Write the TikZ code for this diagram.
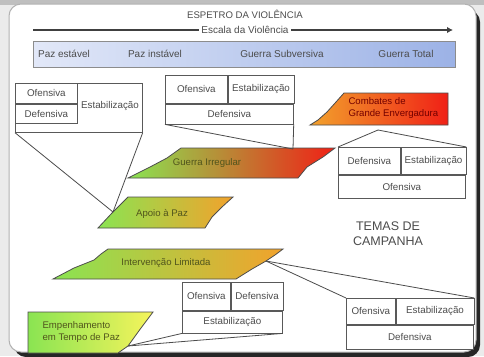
\documentclass[tikz,border=0pt]{standalone}
\usepackage{fontspec}
\setmainfont{Liberation Sans}
\usetikzlibrary{positioning,arrows.meta}
\definecolor{tgreen}{RGB}{138,228,82}
\definecolor{torange}{RGB}{242,162,44}
\definecolor{tred}{RGB}{240,32,22}
\definecolor{tyellow}{RGB}{246,244,92}
\definecolor{ttext}{RGB}{80,84,28}
\definecolor{bandl}{RGB}{226,232,248}
\definecolor{bandr}{RGB}{156,178,230}

\begin{document}
\begin{tikzpicture}[x=1pt,y=-1pt,
cell/.style={draw=black!65,fill=white,line width=0.7pt,inner sep=0pt,
anchor=north west,font=\fontsize{9.8}{11}\selectfont,text=black!70},
tema/.style={draw=black!70,line width=0.8pt},
tematext/.style={font=\fontsize{9.6}{11.5}\selectfont,text=ttext},
callout/.style={draw=black!70,line width=0.8pt},
band/.style={font=\fontsize{10}{11}\selectfont,text=black!70}]
\useasboundingbox (0,0) rectangle (484,356);
% frame
\fill[black!8] (0,0) rectangle (484,356);
\fill[black!25] (0,0) rectangle (484,5);
\fill[black!85,rounded corners=12] (14,10) rectangle (480,357);
\filldraw[fill=white,draw=black!30,line width=1pt,rounded corners=12] (9,4) rectangle (476,352);

% title and scale
\node[font=\fontsize{9.6}{11}\selectfont,text=black!70] (title) at (245,14) {ESPETRO DA VIOLÊNCIA};
\coordinate (escL) at (33,30);
\coordinate (escR) at (453,30);
\draw[black!75,line width=2pt,-{Latex[length=6pt,width=6.5pt]}] (escL) -- (escR);
\node[fill=white,inner sep=2pt,font=\fontsize{10}{11}\selectfont,text=black!70] (escala) at (245,30) {Escala da Violência};
\shadedraw[draw=black!45,left color=bandl,right color=bandr] (33,41) rectangle (455,67);
\node[band] (pazE) at (64,54) {Paz estável};
\node[band] (pazI) at (155,54) {Paz instável};
\node[band] (gSub) at (282,54) {Guerra Subversiva};
\node[band] (gTot) at (406,54) {Guerra Total};

% temas
\shadedraw[tema,left color=torange,right color=tred]
  (344,93) -- (448,93) -- (448,125) -- (310,125) -- (318,120) -- (327,112) -- (336,102) -- cycle;
\node[tematext,text=red!45!black,anchor=west,align=left] (comb) at (345,108) {Combates de\\Grande Envergadura};
\coordinate (combTip) at (378,130);

\shadedraw[tema,left color=tgreen,middle color=torange,right color=tred]
  (181,148) -- (335,148) -- (323,157) -- (307,167) -- (298,178) -- (128,178) -- (150,167) -- (167,158) -- cycle;
\node[tematext] (irreg) at (207,163) {Guerra Irregular};
\coordinate (irregTip) at (293,149);

\shadedraw[tema,left color=tgreen,right color=torange]
  (128,197) -- (233,197) -- (222,207) -- (212,217) -- (205,228) -- (98,228) -- (112,213) -- (120,205) -- cycle;
\node[tematext] (apoio) at (162,214) {Apoio à Paz};
\coordinate (apoioTip) at (113,212);

\shadedraw[tema,left color=tgreen,right color=torange]
  (108,249) -- (283,249) -- (275,255) -- (266,261) -- (252,269) -- (236,279) -- (53,279) -- (74,268) -- (94,260) -- (101,254) -- cycle;
\node[tematext] (inter) at (166,263) {Intervenção Limitada};
\coordinate (interTip) at (266,261);

\shadedraw[tema,left color=tgreen,right color=tyellow]
  (28,312) -- (153,312) -- (141,328) -- (128,346) -- (118,353) -- (28,353) -- cycle;
\node[tematext,anchor=west,align=left] (empen) at (39,332) {Empenhamento\\em Tempo de Paz};
\coordinate (empTip) at (128,346);

% quadros
\node[cell,minimum width=127,minimum height=49] (t1) at (15,83) {};
\node[cell,minimum width=62,minimum height=20] (t1of) at (15,83) {Ofensiva};
\node[cell,minimum width=62,minimum height=19] (t1de) at (t1of.south west) {Defensiva};
\node[font=\fontsize{9.8}{11}\selectfont,text=black!70] (t1es) at (110,106) {Estabilização};
\draw[callout] (t1.south west) -- (apoioTip);
\draw[callout] (t1.south east) -- (apoioTip);

\node[cell,minimum width=62,minimum height=28] (t2of) at (165,75) {Ofensiva};
\node[cell,minimum width=66,minimum height=28] (t2es) at (t2of.north east) {Estabilização};
\node[cell,minimum width=128,minimum height=20] (t2de) at (t2of.south west) {Defensiva};
\draw[callout] (t2de.south west) -- (irregTip);
\draw[callout] (t2de.south east) -- (irregTip);

\node[cell,minimum width=62,minimum height=27] (t3de) at (338,147) {Defensiva};
\node[cell,minimum width=65,minimum height=27] (t3es) at (t3de.north east) {Estabilização};
\node[cell,minimum width=127,minimum height=23] (t3of) at (t3de.south west) {Ofensiva};
\draw[callout] (t3de.north west) -- (combTip);
\draw[callout] (t3es.north east) -- (combTip);

\node[font=\fontsize{12.5}{15}\selectfont,text=black!70,align=center] (temas) at (388,234) {TEMAS DE\\CAMPANHA};

\node[cell,minimum width=48,minimum height=28] (t4of) at (182,282) {Ofensiva};
\node[cell,minimum width=52,minimum height=28] (t4de) at (t4of.north east) {Defensiva};
\node[cell,minimum width=100,minimum height=22] (t4es) at (t4of.south west) {Estabilização};
\draw[callout] (t4es.south west) -- (empTip);
\draw[callout] (t4es.south east) -- (empTip);

\node[cell,minimum width=49,minimum height=26] (t5of) at (346,298) {Ofensiva};
\node[cell,minimum width=78,minimum height=26] (t5es) at (t5of.north east) {Estabilização};
\node[cell,minimum width=127,minimum height=24] (t5de) at (t5of.south west) {Defensiva};
\draw[callout] (t5of.north west) -- (interTip);
\draw[callout] (t5es.north east) -- (interTip);
\end{tikzpicture}
\end{document}
